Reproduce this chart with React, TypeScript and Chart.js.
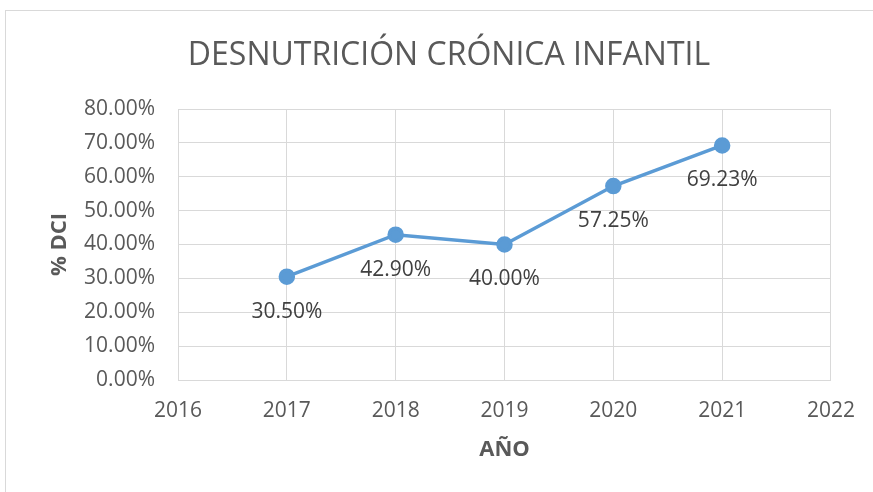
import React, { useEffect, useRef } from "react";
import { Chart, registerables } from "chart.js";

Chart.register(...registerables);

const titleText = "DESNUTRICIÓN CRÓNICA INFANTIL";
const years = [2017, 2018, 2019, 2020, 2021];
const dciValues = [30.5, 42.9, 40.0, 57.25, 69.23];
const xMin = 2016;
const xMax = 2022;
const yMin = 0;
const yMax = 80;
const yStep = 10;
const xTitle = "AÑO";
const yTitle = "% DCI";

const FONT = "'Open Sans', sans-serif";
const LINE_COLOR = "#5b9bd5";
const GRID = "#d9d9d9";

const labelPlugin = {
  id: "pointLabels",
  afterDatasetsDraw(chart: any) {
    const ctx = chart.ctx;
    const meta = chart.getDatasetMeta(0);
    ctx.save();
    ctx.font = `21px ${FONT}`;
    ctx.fillStyle = "#404040";
    ctx.textAlign = "center";
    ctx.textBaseline = "middle";
    meta.data.forEach((el: any, i: number) => {
      ctx.fillText(dciValues[i].toFixed(2) + "%", el.x, el.y + 35);
    });
    ctx.restore();
  },
};

const titlePlugin = {
  id: "offsetTitle",
  afterDraw(chart: any) {
    const ctx = chart.ctx;
    ctx.save();
    ctx.font = `32px ${FONT}`;
    ctx.fillStyle = "#595959";
    ctx.textAlign = "center";
    ctx.textBaseline = "middle";
    ctx.fillText(titleText, 449, 56);
    ctx.restore();
  },
};

export default function App() {
  const ref = useRef<HTMLCanvasElement | null>(null);
  useEffect(() => {
    if (!ref.current) return;
    const chart = new Chart(ref.current, {
      type: "line",
      data: {
        datasets: [
          {
            data: years.map((y, i) => ({ x: y, y: dciValues[i] })),
            borderColor: LINE_COLOR,
            backgroundColor: LINE_COLOR,
            borderWidth: 3.5,
            pointRadius: 6.5,
            pointBackgroundColor: LINE_COLOR,
            pointBorderColor: LINE_COLOR,
            tension: 0,
          },
        ],
      },
      options: {
        animation: false,
        responsive: false,
        maintainAspectRatio: false,
        layout: { padding: { left: 0, right: 41, top: 109, bottom: 0 } },
        plugins: {
          legend: { display: false },
          tooltip: { enabled: false },
          title: { display: false },
        },
        scales: {
          x: {
            type: "linear",
            min: xMin,
            max: xMax,
            ticks: {
              stepSize: 1,
              color: "#595959",
              font: { family: FONT, size: 21 },
              padding: 18,
              callback: (v: any) => String(v),
            },
            grid: { color: GRID, lineWidth: 1, drawTicks: false },
            border: { display: true, color: GRID },
            title: {
              display: true,
              text: xTitle,
              color: "#595959",
              font: { family: FONT, size: 22, weight: "bold", lineHeight: 1.2 },
              padding: { top: 0, bottom: 29 },
            },
            afterFit: (s: any) => {
              s.height = 112;
            },
          },
          y: {
            min: yMin,
            max: yMax,
            ticks: {
              stepSize: yStep,
              color: "#595959",
              font: { family: FONT, size: 21 },
              padding: 23,
              callback: (v: any) => Number(v).toFixed(2) + "%",
            },
            grid: { color: GRID, lineWidth: 1, drawTicks: false },
            border: { display: true, color: GRID },
            title: {
              display: true,
              text: yTitle,
              color: "#595959",
              font: { family: FONT, size: 22, weight: "bold", lineHeight: 1.2 },
              padding: { top: 47, bottom: 0 },
            },
            afterFit: (s: any) => {
              s.width = 178;
            },
          },
        },
      },
      plugins: [labelPlugin, titlePlugin],
    });
    return () => chart.destroy();
  }, []);

  return (
    <div style={{ position: "fixed", left: 0, top: 0, width: 873, height: 492, background: "#fff", overflow: "hidden" }}>
      <div
        style={{
          position: "absolute",
          left: 5,
          top: 10,
          width: 900,
          height: 520,
          border: "1px solid #d9d9d9",
          boxSizing: "border-box",
        }}
      />
      <canvas ref={ref} width={873} height={492} style={{ position: "absolute", left: 0, top: 0 }} />
    </div>
  );
}
